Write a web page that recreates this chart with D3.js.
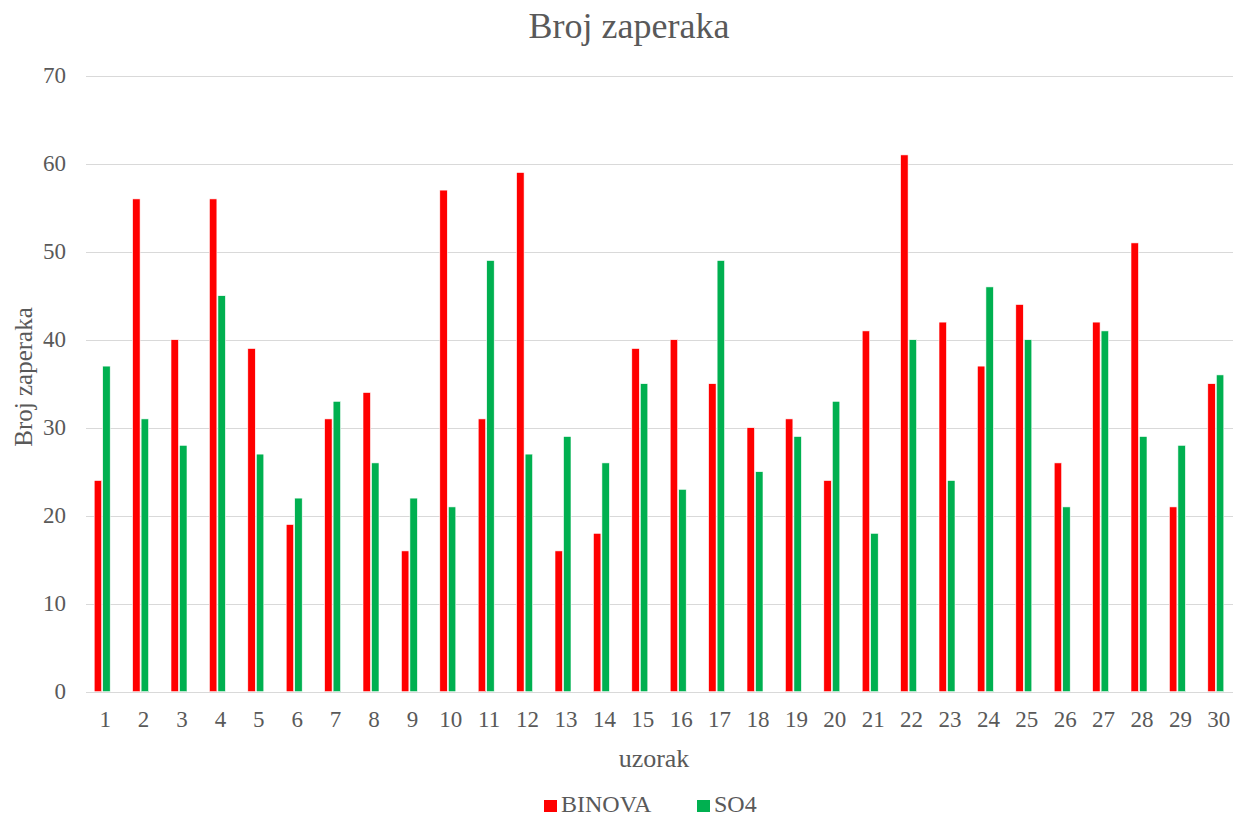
<!DOCTYPE html>
<html><head><meta charset="utf-8">
<script src="https://cdn.jsdelivr.net/npm/d3@7"></script>
<style>body{margin:0;background:#fff}svg{display:block}</style>
</head><body><svg id="c" width="1233" height="818"></svg>
<script>
const categories = ["1","2","3","4","5","6","7","8","9","10","11","12","13","14","15","16","17","18","19","20","21","22","23","24","25","26","27","28","29","30"];
const binova = [24,56,40,56,39,19,31,34,16,57,31,59,16,18,39,40,35,30,31,24,41,61,42,37,44,26,42,51,21,35];
const so4 = [37,31,28,45,27,22,33,26,22,21,49,27,29,26,35,23,49,25,29,33,18,40,24,46,40,21,41,29,28,36];
const seriesNames = ["BINOVA","SO4"];
const colors = ["#ff0000","#00b050"];
const yTicks = [0,10,20,30,40,50,60,70];

(function(){
const FONT = "Liberation Serif, Times New Roman, DejaVu Serif, serif";
const svg = d3.select("#c").attr("font-family", FONT);
const pLeft = 86, pRight = 1238, pTop = 75.7, pBottom = 691.7;
const x = d3.scaleBand().domain(categories).range([pLeft, pRight]).padding(0);
const x1 = d3.scaleBand().domain(seriesNames).range([-11, 5]).paddingInner(0.12);
const y = d3.scaleLinear().domain([0,70]).range([pBottom, pTop]);
const txt = sel => sel.attr("font-family", FONT).attr("fill", "#595959");

svg.append("g").selectAll("line").data(yTicks).join("line")
  .attr("x1", pLeft).attr("x2", pRight)
  .attr("y1", d => Math.round(y(d))+0.5).attr("y2", d => Math.round(y(d))+0.5)
  .attr("stroke", "#d9d9d9").attr("stroke-width", 1);

svg.append("g").selectAll("text").data(yTicks).join("text").call(txt)
  .attr("x", 66).attr("y", d => y(d) + 7.5)
  .attr("text-anchor", "end").attr("font-size", 23).text(d => d);

const data = [binova, so4];
data.forEach((vals, si) => {
  svg.append("g").selectAll("rect").data(vals).join("rect")
    .attr("x", (d,i) => x(categories[i]) + x.bandwidth()/2 + x1(seriesNames[si]))
    .attr("width", x1.bandwidth())
    .attr("y", d => y(d)).attr("height", d => y(0) - y(d))
    .attr("fill", colors[si]).attr("stroke", "#ffffff").attr("stroke-width", 0.6);
});

svg.append("g").selectAll("text").data(categories).join("text").call(txt)
  .attr("x", d => x(d) + x.bandwidth()/2).attr("y", 727)
  .attr("text-anchor", "middle").attr("font-size", 23).text(d => d);

svg.append("text").call(txt).attr("x", 629).attr("y", 38).attr("text-anchor","middle")
  .attr("font-size", 36).text("Broj zaperaka");
svg.append("text").call(txt).attr("x", 654).attr("y", 767).attr("text-anchor","middle")
  .attr("font-size", 26).text("uzorak");
svg.append("text").call(txt).attr("transform", "translate(32,377) rotate(-90)").attr("text-anchor","middle")
  .attr("font-size", 25).text("Broj zaperaka");

const legX = [544, 697];
seriesNames.forEach((s, i) => {
  svg.append("rect").attr("x", legX[i]).attr("y", 800).attr("width", 13).attr("height", 12).attr("fill", colors[i]);
  svg.append("text").call(txt).attr("x", legX[i] + 17).attr("y", 812).attr("font-size", 24).text(s);
});
})();
</script></body></html>
